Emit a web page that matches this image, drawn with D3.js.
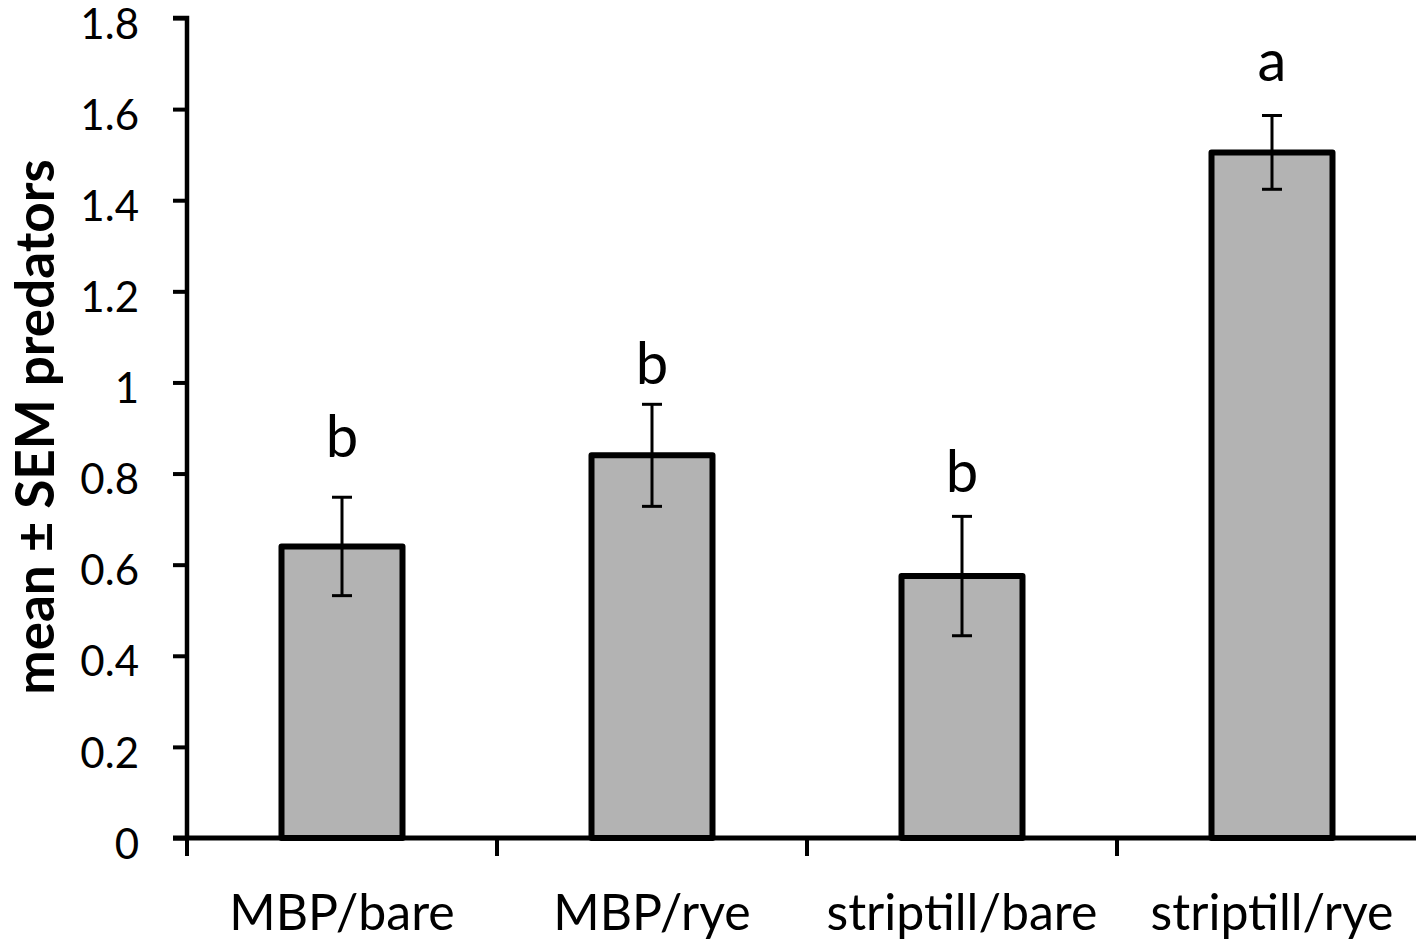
<!DOCTYPE html>
<html><head><meta charset="utf-8">
<script src="https://cdn.jsdelivr.net/npm/d3@7"></script>
<style>body{margin:0;background:#fff;overflow:hidden}svg{display:block}text{font-family:Lato,"Open Sans",sans-serif}</style>
</head><body><svg id="c" width="1416" height="942"></svg>
<script>
const categories = ["MBP/bare","MBP/rye","striptill/bare","striptill/rye"];
const means = [0.64, 0.84, 0.575, 1.505];
const sems = [0.108, 0.112, 0.131, 0.081];
const letters = ["b","b","b","a"];
const letterPos = [0.836, 0.997, 0.76, 1.662];
const yTicks = [0,0.2,0.4,0.6,0.8,1,1.2,1.4,1.6,1.8];
const yTickLabels = ["0","0.2","0.4","0.6","0.8","1","1.2","1.4","1.6","1.8"];

const svg = d3.select("#c");
const x0 = 187, x1 = 1427, yTop = 18, yBot = 838;
const x = d3.scaleBand().domain(categories).range([x0, x1]).paddingInner(0).paddingOuter(0);
const y = d3.scaleLinear().domain([0, 1.8]).range([yBot, yTop]);

const bw = 121;
const g = svg.append("g");
g.selectAll("rect.bar").data(categories).join("rect")
  .attr("x", d => x(d) + x.bandwidth()/2 - bw/2)
  .attr("y", (d,i) => y(means[i]))
  .attr("width", bw)
  .attr("height", (d,i) => yBot - y(means[i]))
  .attr("fill", "#b3b3b3").attr("stroke", "#000").attr("stroke-width", 6).attr("stroke-linejoin","round");

// error bars
const cap = 10;
categories.forEach((c,i) => {
  const cx = x(c) + x.bandwidth()/2;
  const hi = y(means[i]+sems[i]), lo = y(means[i]-sems[i]);
  g.append("line").attr("x1",cx).attr("x2",cx).attr("y1",hi).attr("y2",lo).attr("stroke","#000").attr("stroke-width",3);
  g.append("line").attr("x1",cx-cap).attr("x2",cx+cap).attr("y1",hi).attr("y2",hi).attr("stroke","#000").attr("stroke-width",3);
  g.append("line").attr("x1",cx-cap).attr("x2",cx+cap).attr("y1",lo).attr("y2",lo).attr("stroke","#000").attr("stroke-width",3);
  g.append("text").attr("x",cx).attr("y",y(letterPos[i])).attr("text-anchor","middle").attr("font-size",58).text(letters[i]);
});

// y axis
const yAxis = d3.axisLeft(y).tickValues(yTicks).tickFormat((d,i)=>yTickLabels[i]).tickSize(14).tickPadding(34);
const ya = svg.append("g").attr("transform",`translate(${x0},0)`).call(yAxis);
ya.select(".domain").attr("stroke-width",4.5).attr("d",`M-14,${yTop}H0V${yBot}`);
ya.selectAll(".tick line").attr("stroke-width",4);
ya.selectAll(".tick text").attr("font-size",42).attr("fill","#000").attr("dy","0.48em").attr("font-family","Lato, 'Open Sans', sans-serif");

// x axis
const xa = svg.append("g").attr("transform",`translate(0,${yBot})`);
xa.append("line").attr("x1",x0-14).attr("x2",1416).attr("y1",0).attr("y2",0).attr("stroke","#000").attr("stroke-width",5);
const tickPos = categories.map(c => x(c));
xa.selectAll("line.xt").data(tickPos).join("line").attr("class","xt")
  .attr("x1",d=>d).attr("x2",d=>d).attr("y1",0).attr("y2",18).attr("stroke","#000").attr("stroke-width",4);
xa.selectAll("text").data(categories).join("text")
  .attr("x",d=>x(d)+x.bandwidth()/2).attr("y",92).attr("text-anchor","middle").attr("font-size",50).text(d=>d);

// y title
svg.append("text").attr("transform","translate(54,427) rotate(-90)").attr("text-anchor","middle")
  .attr("font-size",53).attr("font-weight","bold").text("mean ± SEM predators");
</script></body></html>
